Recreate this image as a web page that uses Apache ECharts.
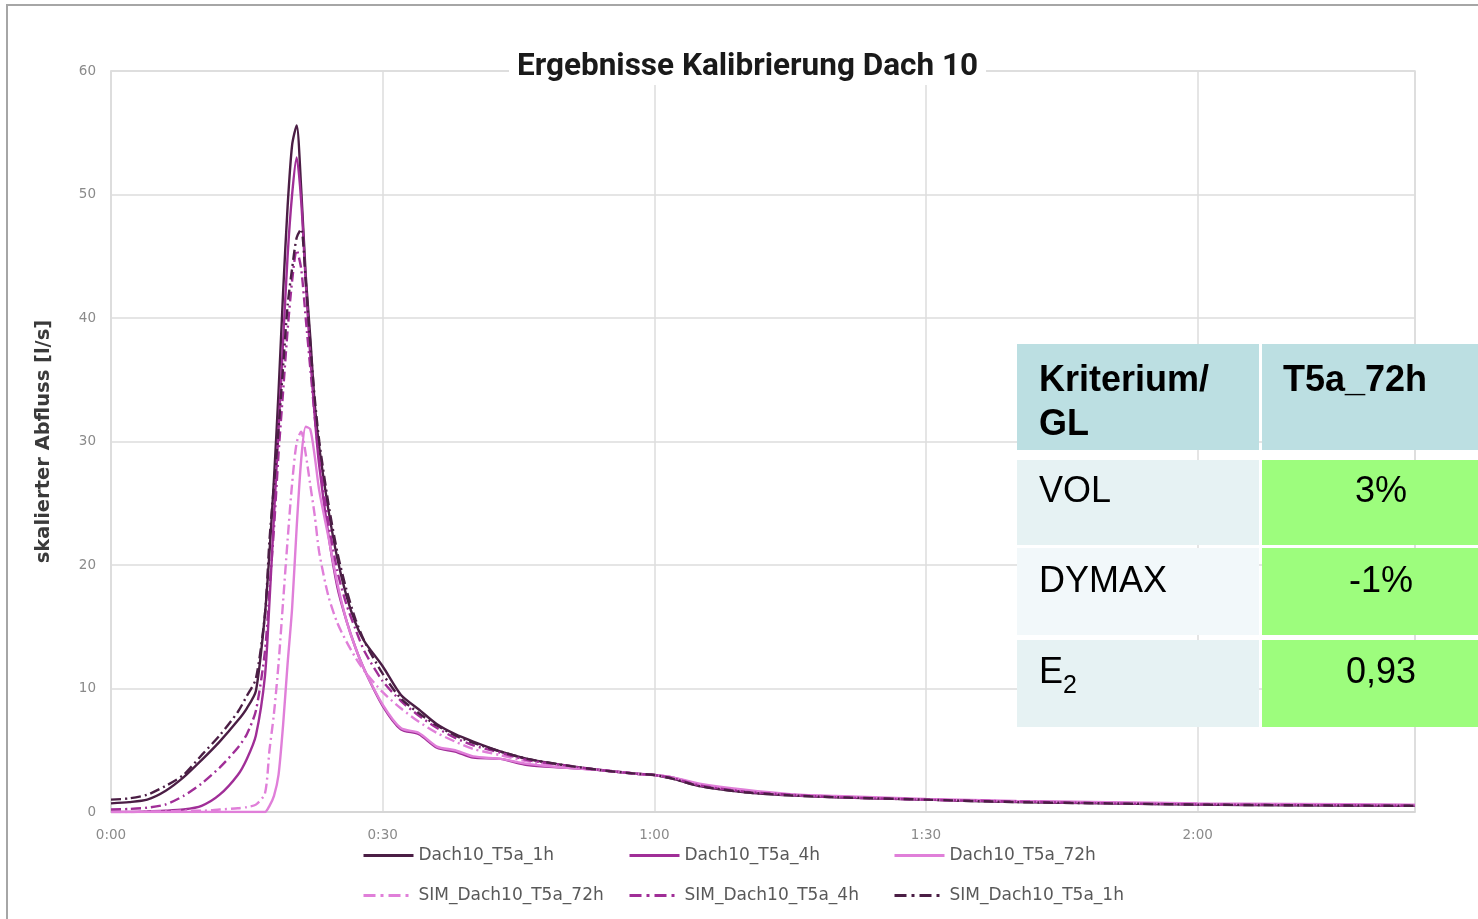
<!DOCTYPE html>
<html>
<head>
<meta charset="utf-8">
<script src="https://cdn.jsdelivr.net/npm/echarts@6/dist/echarts.min.js"></script>
<style>
html,body{margin:0;padding:0;background:#fff;}
#chart{width:1478px;height:919px;}
</style>
</head>
<body>
<div id="chart"></div>
<script>
// time in minutes
const times = [0,2,4,6,8,10,12,14,15,16,17,17.5,18,18.5,19,19.5,20,20.5,21,21.5,22,22.5,23,24,25,26,27,28,30,32,34,36,38,40,43,46,50,54,58,60,62,65,70,75,80,90,100,110,120,130,144];

const dach1h = [0.7,0.8,1.0,1.7,2.8,4.2,5.7,7.4,8.4,9.8,16,21,27,34,42,49,54,55.6,50.5,43.5,38.5,33,29.5,24.5,20.5,17.5,15.3,13.8,11.8,9.5,8.3,7.1,6.3,5.7,4.9,4.3,3.8,3.4,3.1,3.0,2.7,2.1,1.6,1.35,1.2,1.0,0.8,0.7,0.6,0.55,0.5];
const dach4h = [0,0,0.05,0.1,0.2,0.5,1.4,3.0,4.3,6.2,11,17,24,31,38,45,50,53,49.5,43,37,32,28,22.5,18.2,15.5,13.3,11.5,8.6,6.7,6.3,5.2,4.9,4.4,4.3,3.8,3.6,3.4,3.1,3.0,2.8,2.2,1.7,1.4,1.25,1.0,0.85,0.75,0.65,0.6,0.55];
const dach72h = [0,0,0,0,0,0,0,0,0,0,0,0.5,1.3,3,7,12,16.5,23,28.5,31.2,31,28.8,26,22.3,18.5,15.5,13.3,11.5,8.7,6.8,6.4,5.3,5.0,4.5,4.3,3.9,3.6,3.4,3.1,3.0,2.8,2.3,1.8,1.45,1.3,1.05,0.9,0.8,0.7,0.65,0.6];
const sim72h = [0,0,0.05,0.05,0.1,0.1,0.2,0.3,0.4,0.6,1.5,5,8,12,17,22,26.6,29.9,30.8,29,26.5,24,21,17.5,15.3,13.8,12.5,11.4,9.7,8.4,7.3,6.4,5.7,5.1,4.6,4.1,3.7,3.4,3.1,3.0,2.8,2.2,1.7,1.4,1.25,1.0,0.85,0.75,0.65,0.6,0.55];
const sim4h = [0.2,0.25,0.35,0.6,1.3,2.3,3.6,5.2,6.3,8.2,13,18,23,29,34,39,43,45.5,44,40,36,32,28.5,23.5,19.5,16.8,14.8,13.0,10.6,9.0,7.8,6.8,6.0,5.4,4.8,4.2,3.8,3.4,3.1,3.0,2.75,2.15,1.65,1.4,1.2,1.0,0.85,0.7,0.62,0.57,0.52];
const sim1h = [1.0,1.1,1.4,2.1,3.0,4.6,6.2,8.1,9.4,10.8,16,22,26.5,31,36,41,44,46.5,47.2,43,38,33.5,30,25,21,18,15.6,13.8,11.2,9.2,8.0,7.0,6.2,5.6,4.9,4.3,3.8,3.4,3.1,3.0,2.7,2.1,1.6,1.35,1.2,1.0,0.8,0.7,0.6,0.55,0.5];

const seriesNames = ['Dach10_T5a_1h','Dach10_T5a_4h','Dach10_T5a_72h','SIM_Dach10_T5a_72h','SIM_Dach10_T5a_4h','SIM_Dach10_T5a_1h'];
const seriesValues = [dach1h, dach4h, dach72h, sim72h, sim4h, sim1h];

const tableHeader = ['Kriterium/\nGL', 'T5a_72h'];
const tableCriteria = ['VOL', 'DYMAX', 'E'];
const tableValues = ['3%', '-1%', '0,93'];

const DARK = '#4b1e45', MED = '#a02e97', LIGHT = '#e07fd9';
const colors = [DARK, MED, LIGHT, LIGHT, MED, DARK];
const dashed = [false,false,false,true,true,true];

function pairs(vals){ return times.map((t,i)=>[t, vals[i]]); }

const series = seriesNames.map((n,i)=>({
  name: n,
  type: 'line',
  data: pairs(seriesValues[i]),
  symbol: 'none',
  smooth: 0.25,
  z: 2 + i,
  lineStyle: {color: colors[i], width: 2.4, type: dashed[i] ? [10,4,2,4] : 'solid'},
  itemStyle: {color: colors[i]}
}));

// legends: one per item, two rows
const legendPos = [[362,847],[628,847],[893,847],[362,887],[628,887],[893,887]];
const legends = seriesNames.map((n,i)=>({
  data: [n],
  left: legendPos[i][0],
  top: legendPos[i][1],
  itemWidth: 50,
  itemHeight: 14,
  itemGap: 0,
  padding: 0,
  itemStyle: {opacity: 0},
  lineStyle: {width: 3, type: dashed[i] ? [12,5,3,5] : 'solid'},
  textStyle: {color: '#595959', fontSize: 17, fontFamily: 'DejaVu Sans', padding: [0,0,0,0]},
  selectedMode: false
}));

const tblFont = 'Liberation Sans, Arial, sans-serif';
const c1x = 1017, c1w = 242, c2x = 1262, c2w = 216;
const rowsY = [[344,106],[460,85],[548,87],[640,87]];
const leftFill = ['#bcdfe2','#e6f2f3','#f2f8fa','#e6f2f3'];
const graphic = [
  {type:'rect', z:0, shape:{x:7,y:5,width:1600,height:1000}, style:{fill:'none', stroke:'#a6a6a6', lineWidth:2}, silent:true}
];
rowsY.forEach((r,i)=>{
  graphic.push({type:'rect', z:100, shape:{x:c1x,y:r[0],width:c1w,height:r[1]}, style:{fill:leftFill[i]}});
  graphic.push({type:'rect', z:100, shape:{x:c2x,y:r[0],width:c2w,height:r[1]}, style:{fill: i===0 ? '#bcdfe2' : '#9dfd7d'}});
});
graphic.push({type:'text', z:101, style:{text:'Kriterium/', x:1039, y:381, font:'bold 36px '+tblFont, fill:'#000', verticalAlign:'middle'}});
graphic.push({type:'text', z:101, style:{text:'GL', x:1039, y:425, font:'bold 36px '+tblFont, fill:'#000', verticalAlign:'middle'}});
graphic.push({type:'text', z:101, style:{text:tableHeader[1], x:1283, y:381, font:'bold 36px '+tblFont, fill:'#000', verticalAlign:'middle'}});
const rowCenters = [492, 582, 673];
tableCriteria.forEach((c,i)=>{
  graphic.push({type:'text', z:101, style:{text:c, x:1039, y:rowCenters[i], font:'36px '+tblFont, fill:'#000', verticalAlign:'middle'}});
  graphic.push({type:'text', z:101, style:{text:tableValues[i], x:1381, y:rowCenters[i], font:'36px '+tblFont, fill:'#000', align:'center', verticalAlign:'middle'}});
});
graphic.push({type:'text', z:101, style:{text:'2', x:1063, y:686, font:'25px '+tblFont, fill:'#000', verticalAlign:'middle'}});

const chart = echarts.init(document.getElementById('chart'));
chart.setOption({
  backgroundColor: '#fff',
  animation: false,
  title: {
    text: 'Ergebnisse Kalibrierung Dach 10',
    left: 509,
    top: 49,
    padding: [2,8],
    backgroundColor: '#fff',
    textStyle: {fontSize: 31.5, fontWeight: 'bold', color: '#1a1a1a', fontFamily: 'Roboto'}
  },
  grid: {left: 111, top: 71, right: 63, bottom: 107, show: true, borderColor: '#dcdcdc', borderWidth: 1.5},
  legend: legends,
  xAxis: {
    type: 'value', min: 0, max: 144, interval: 30,
    axisLine: {show: true, lineStyle: {color: '#d4d4d4', width: 1.5}},
    axisTick: {show: false},
    axisLabel: {color: '#8a8a8a', fontSize: 13.5, fontFamily: 'DejaVu Sans', margin: 16, showMaxLabel: false,
      formatter: v => Math.floor(v/60) + ':' + String(v%60).padStart(2,'0')},
    splitLine: {show: true, lineStyle: {color: '#dcdcdc', width: 1.5}}
  },
  yAxis: {
    type: 'value', min: 0, max: 60, interval: 10,
    name: 'skalierter Abfluss [l/s]', nameLocation: 'middle', nameGap: 57,
    nameTextStyle: {fontSize: 19.5, fontWeight: 'bold', color: '#3a3a3a', fontFamily: 'DejaVu Sans'},
    axisLine: {show: true, lineStyle: {color: '#dcdcdc', width: 1.5}},
    axisTick: {show: false},
    axisLabel: {color: '#8a8a8a', fontSize: 13.5, fontFamily: 'DejaVu Sans', margin: 15},
    splitLine: {show: true, lineStyle: {color: '#dcdcdc', width: 1.5}}
  },
  series: series,
  graphic: graphic
});
</script>
</body>
</html>
